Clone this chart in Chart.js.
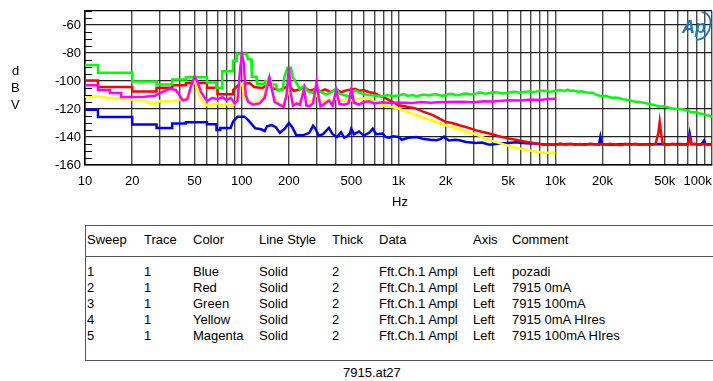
<!DOCTYPE html>
<html>
<head>
<meta charset="utf-8">
<script src="https://cdn.jsdelivr.net/npm/chart.js@4/dist/chart.umd.min.js"></script>
<style>
  html, body { margin: 0; padding: 0; background: #fff; }
  #wrap { position: relative; width: 713px; height: 381px; overflow: hidden; background: #fff;
          font-family: "Liberation Sans", Arial, sans-serif; font-size: 13px; color: #000; }
  #c { position: absolute; left: 0; top: 0; }
  .t { position: absolute; line-height: 16px; white-space: nowrap; }
  #tbl { position: absolute; left: 85px; top: 225px; width: 660px; height: 136px;
         border: 1.5px solid #555; box-sizing: border-box; }
  #sep { position: absolute; left: 85px; top: 256px; width: 660px; height: 0; border-top: 1.5px solid #555; }
</style>
</head>
<body>
<div id="wrap">
  <canvas id="c" width="713" height="215"></canvas>
  <div class="t" style="left:12px;top:63px;">d</div>
  <div class="t" style="left:11px;top:80px;">B</div>
  <div class="t" style="left:11px;top:97px;">V</div>
  <div class="t" style="left:392px;top:194px;">Hz</div>
  <div id="tbl"></div>
  <div id="sep"></div>
  <div id="rows"></div>
  <div class="t" style="left:343px;top:365px;">7915.at27</div>
</div>
<script>
// ---------- data ----------
const xTickLabels = {10:'10',20:'20',50:'50',100:'100',200:'200',500:'500',1000:'1k',2000:'2k',5000:'5k',10000:'10k',20000:'20k',50000:'50k',100000:'100k        '};
const yTickValues = [-160,-140,-120,-100,-80,-60,-50];

const blueF = [10,12.1,12.1,20,20,28.6,28.6,36,36,44,44,60,60,69,69,73,73,85,88,94,104,110,122,133,140,145,155,165,175,188,200,210,222,245,270,285,295,310,330,360,380,405,430,450,470,490,500,520,560,600,650,685,720,790,830,870,920,1000,1050,1150,1300,1450,1600,1740,1850,1950,2000,2100,2300,2450,2700,3100,3400,3800,4300,5000,5600,6200,7000,7500,8500,10000,12000,14800,17000,19000,19400,19800,23000,28000,35000,45000,52000,60000,70000,72000,74000,85000,89000,91000,100000];
const blueV = [-120.5,-120.5,-125.7,-125.7,-131,-131,-133.5,-133.5,-130.4,-130.4,-129.4,-129.4,-130.9,-130.9,-135,-135,-133.5,-133.5,-129,-125.5,-125.5,-128,-133.8,-134.5,-135.8,-132.3,-131.5,-133,-137,-134,-130,-133,-138.5,-138.8,-137,-132,-134,-139,-138,-133.5,-138,-140,-136.5,-140.5,-139.5,-137.5,-134,-138,-136,-139,-137,-134,-138,-137.5,-140,-140.5,-139.5,-140,-142,-140.5,-140,-141.5,-142,-142.3,-141.5,-139.8,-141,-142.5,-142,-142.3,-143.5,-144.3,-144,-145.5,-144.8,-144.2,-143.8,-144.2,-144.6,-144.7,-145.3,-145.3,-145,-145.4,-145,-145.3,-140,-145.2,-145.5,-145,-145.4,-145,-145.3,-145,-145.2,-137.5,-145,-145.4,-142.5,-145.2,-145.2];

const redF = [10,12.1,12.1,20,20,28.6,28.6,36,36,44,44,60,60,70,70,88,88,95,104,112,120,135,150,160,175,190,200,215,235,250,270,290,310,340,370,400,430,470,500,530,560,600,650,700,750,800,850,920,1000,1100,1200,1300,1450,1660,1800,2000,2200,2450,2800,3100,3400,3800,4300,5000,5600,6200,7000,7500,8500,
  10000,10800,11600,12500,13400,14400,15500,16700,18000,19300,20800,22400,24100,26000,28000,30100,32400,34900,37600,40500,43600,45500,46400,47300,48500,52000,56000,60300,65000,70000,72000,74000,78000,84000,90000,95000,100000];
const redV = [-99.6,-99.6,-104.3,-104.3,-107.5,-107.5,-104.8,-104.8,-103,-103,-101.5,-101.5,-104.8,-104.8,-109.5,-109.5,-106.7,-103,-102,-101.5,-104.3,-105,-102,-105.5,-106.5,-104.5,-103.5,-107,-106,-104,-107,-106,-108,-106,-108,-105.8,-108,-106.5,-106,-105.5,-107,-106.5,-108,-108.5,-110.2,-111.5,-113,-115,-117.4,-118,-119,-119.7,-122,-124.4,-126.5,-129.2,-130,-131.6,-133.5,-135.1,-136.3,-137.5,-139.3,-141,-142,-143,-144,-144.6,-145.3,
  -145.3,-144.6,-145.5,-144.9,-145.6,-145.0,-145.7,-144.8,-145.4,-145.0,-145.6,-144.9,-145.3,-145.8,-145.0,-145.5,-144.8,-145.4,-145.1,-145.7,-145.0,-137,-129.2,-137,-145.2,-145.6,-144.9,-145.5,-145.1,-145.6,-140.3,-145.2,-144.8,-145.5,-145.0,-145.6,-145.2];

const greenF = [10,12.1,12.1,20,20,28.6,28.6,36,36,44,44,60,60,69,69,75,75,88,88,92,93,108,109,115,116,124,125,140,141,152,153,165,168,182,187,196,206,212,225,235,250,265,285,300,320,345,380,400,420,450,480,500,530,560,600,650,720,790,850,920,
  1000,1080,1150,1230,1300,1380,1450,1550,1650,1750,1900,2000,2100,2200,2330,2450,2580,2700,2900,3100,3250,3400,3600,3800,4050,4300,4650,5000,5300,5600,5900,6200,6900,7200,7500,8000,8500,9200,10000,10500,11000,11500,12000,12500,13000,14000,14800,15600,16500,17200,18000,19000,20000,21000,22000,23000,24000,25500,27000,28500,30000,32000,34000,37000,40000,43000,46000,49000,52000,56000,60000,64000,67000,71000,75000,79000,82000,86000,90000,95000,100000];
const greenV = [-88.6,-88.6,-94.1,-94.1,-100.3,-100.3,-102.5,-102.5,-99,-99,-97.3,-97.3,-101,-101,-105,-105,-93,-93,-85.5,-85.5,-80.5,-80.5,-84.5,-84.5,-97,-97,-102,-102,-100,-100,-102.5,-102.5,-106.5,-106.5,-97,-90.5,-90.5,-97.5,-102,-106,-103,-107.5,-108.5,-104,-108,-109.5,-107.5,-105.5,-109,-110,-111,-109.5,-106.7,-108,-109.5,-110,-110.5,-111,-110,-110.8,
  -110.2,-109.4,-110.6,-109.8,-111,-110.2,-109.6,-110.4,-109.7,-109.5,-110.6,-110,-109.3,-109.2,-110.1,-110,-109.1,-109,-109.7,-109,-108.3,-108.4,-109.1,-108.6,-108,-108.2,-108.9,-108.3,-107.7,-107.6,-108.4,-108,-107.4,-108.1,-107.6,-106.9,-107,-107.7,-107.2,-106.5,-106.6,-107.1,-106.2,-106.9,-106.8,-107.7,-107.4,-108.1,-108.4,-108.2,-109.5,-110.4,-111,-110.6,-111.3,-112,-111.8,-112.2,-113,-113.4,-113.8,-114.6,-115,-115.6,-116.6,-117.1,-118.3,-118.1,-118.8,-119.6,-120,-120.2,-120.6,-121.5,-122.5,-122.2,-123,-123.4,-124,-124.6,-125.7];

const yellowF = [10,12.1,14,17,20,24,26,28.6,30,36,40,44,47,50,52,55,58,60,65,70,75,80,88,93,98,101,104,110,120,130,140,148,152,158,165,175,185,195,200,205,215,230,242,250,258,275,290,300,310,330,360,380,400,420,450,480,500,540,600,650,700,790,880,1000,1150,1300,1500,1700,2000,2200,2450,2800,3100,3400,3800,4300,5000,5600,6200,7000,7500,8500,10000];
const yellowV = [-111,-111,-112,-112.5,-113.3,-114,-116,-116,-114.5,-114.5,-113.3,-113,-108,-99,-106,-113,-116,-117.4,-117.4,-116,-117.5,-116.5,-117.5,-114,-102,-102,-112,-115,-115.5,-115,-110,-98,-98,-108,-114,-116.5,-117,-110,-105.5,-110,-116,-116.5,-112,-105.5,-113,-115,-112,-109,-113,-115,-113.5,-114.5,-112,-114,-113.5,-114,-113.8,-112.7,-112.5,-113,-114.8,-117.4,-118.2,-119.7,-122,-124.5,-126.8,-128.9,-131.6,-133,-134.6,-136.5,-138,-140,-142.2,-144,-146.2,-147.5,-148.8,-149.8,-150.5,-151,-151.6];

const magentaF = [10,12.1,12.1,14.4,14.4,17,17,20,24,28,31,35,38,40,42,45,47,50,52,55,60,65,70,75,80,85,90,94,97,100,103,106,110,118,130,140,150,155,162,175,185,193,200,205,212,225,235,250,258,270,285,300,310,318,340,360,380,400,420,450,480,500,520,560,600,650,700,790,900,1000,1200,1400,1600,1800,2000,2500,3000,3500,4000,5000,6000,7000,8000,9000,10000];
const magentaV = [-103.1,-103.1,-106.4,-106.4,-108.6,-108.6,-111.4,-111.4,-111.2,-110.5,-108,-105.5,-106.5,-110,-113.8,-113,-105,-96.7,-100,-108,-114.4,-112,-113,-111.5,-113.5,-112,-116,-114,-95,-80.5,-87,-110,-115,-116.9,-116,-112,-97.5,-105,-115,-117,-118.5,-110,-90,-108,-117.5,-116,-117,-105.5,-117.5,-118,-116,-100.8,-112,-118,-116,-114,-117.5,-106.5,-116.5,-117,-116,-106,-115.5,-116.8,-115,-114.5,-116,-115.2,-115.8,-115.4,-115.8,-115,-115.6,-115.1,-115,-114.8,-115.2,-114.4,-114.6,-113.8,-114,-113.3,-113.5,-112.9,-112.7];

const tableHeader = ['Sweep','Trace','Color','Line Style','Thick','Data','Axis','Comment'];
const tableRows = [
  ['1','1','Blue','Solid','2','Fft.Ch.1 Ampl','Left','pozadi'],
  ['2','1','Red','Solid','2','Fft.Ch.1 Ampl','Left','7915 0mA'],
  ['3','1','Green','Solid','2','Fft.Ch.1 Ampl','Left','7915 100mA'],
  ['4','1','Yellow','Solid','2','Fft.Ch.1 Ampl','Left','7915 0mA HIres'],
  ['5','1','Magenta','Solid','2','Fft.Ch.1 Ampl','Left','7915 100mA HIres']
];

// ---------- table (text) ----------
const colX = [87,144,193,259,332,379,473,512];
const rowsDiv = document.getElementById('rows');
function addRow(cells, top){
  cells.forEach((txt,i)=>{
    const d = document.createElement('div');
    d.className = 't';
    d.style.left = colX[i] + 'px';
    d.style.top = top + 'px';
    d.textContent = txt;
    rowsDiv.appendChild(d);
  });
}
addRow(tableHeader, 232);
tableRows.forEach((r,i)=>addRow(r, 264 + i*16));

// ---------- chart ----------
const toXY = (F,V) => F.map((f,i)=>({x:f, y:V[i]}));
const mk = (label, F, V, color, order) => ({
  label, data: toXY(F,V), borderColor: color, backgroundColor: color,
  borderWidth: 2.5, pointRadius: 0, tension: 0, fill: false, order
});

const minorTicks = {
  id: 'minorTicks',
  afterDraw(chart){
    const {ctx, chartArea, scales} = chart;
    ctx.save();
    ctx.strokeStyle = '#000';
    ctx.lineWidth = 1;
    for (let v = -155; v <= -50; v += 5){
      if (v % 20 === 0) continue;
      const y = Math.round(scales.y.getPixelForValue(v)) + 0.5;
      ctx.beginPath();
      ctx.moveTo(chartArea.left, y);
      ctx.lineTo(chartArea.left + 7, y);
      ctx.stroke();
    }
    // Ap logo
    ctx.strokeStyle = '#1f77b8';
    ctx.fillStyle = '#1f77b8';
    ctx.lineWidth = 1.8;
    ctx.beginPath();
    ctx.ellipse(700, 26, 10, 14, 0.35, -1.9, 1.5);
    ctx.stroke();
    ctx.font = 'italic bold 18px "Liberation Sans", Arial, sans-serif';
    ctx.textAlign = 'center';
    ctx.textBaseline = 'middle';
    ctx.fillText('Ap', 694, 28);
    ctx.restore();
  }
};

new Chart(document.getElementById('c'), {
  type: 'line',
  data: {
    datasets: [
      mk('pozadi', blueF, blueV, '#0000ff', 5),
      mk('7915 0mA', redF, redV, '#ff0000', 4),
      mk('7915 100mA', greenF, greenV, '#00ff00', 3),
      mk('7915 0mA HIres', yellowF, yellowV, '#ffff00', 2),
      mk('7915 100mA HIres', magentaF, magentaV, '#ff00ff', 1)
    ]
  },
  options: {
    responsive: false,
    animation: false,
    devicePixelRatio: 1,
    layout: { autoPadding: false, padding: { left: 0, right: 1, top: 11, bottom: 0 } },
    plugins: { legend: { display: false }, tooltip: { enabled: false } },
    scales: {
      x: {
        type: 'logarithmic', min: 10, max: 100000,
        afterBuildTicks(scale){
          const t = [];
          for (let d = 10; d <= 10000; d *= 10) for (let m = 1; m <= 9; m++) t.push({value: m*d});
          t.push({value: 100000});
          scale.ticks = t;
        },
        afterFit(scale){ scale.height = 50; scale.paddingLeft = 0; scale.paddingRight = 0; },
        ticks: {
          autoSkip: false, maxRotation: 0, minRotation: 0, padding: 9, color: '#000',
          font: { family: '"Liberation Sans", Arial, sans-serif', size: 13 },
          callback(v){ return xTickLabels[v] !== undefined ? xTickLabels[v] : ''; }
        },
        grid: { color: '#4a4a4a', lineWidth: 1.4, drawTicks: false },
        border: { color: '#000', width: 1.5 }
      },
      y: {
        type: 'linear', min: -160, max: -50,
        afterBuildTicks(scale){ scale.ticks = yTickValues.map(v=>({value:v})); },
        afterFit(scale){ scale.width = 85; scale.paddingTop = 0; scale.paddingBottom = 0; },
        ticks: {
          padding: 4, color: '#000',
          font: { family: '"Liberation Sans", Arial, sans-serif', size: 13 },
          callback(v){ return v === -50 ? '' : String(v); }
        },
        grid: { color: (c)=> c.tick && c.tick.value === -50 ? '#000' : '#222', lineWidth: 1.3, drawTicks: false },
        border: { color: '#000', width: 1.5 }
      }
    }
  },
  plugins: [minorTicks]
});
</script>
</body>
</html>
